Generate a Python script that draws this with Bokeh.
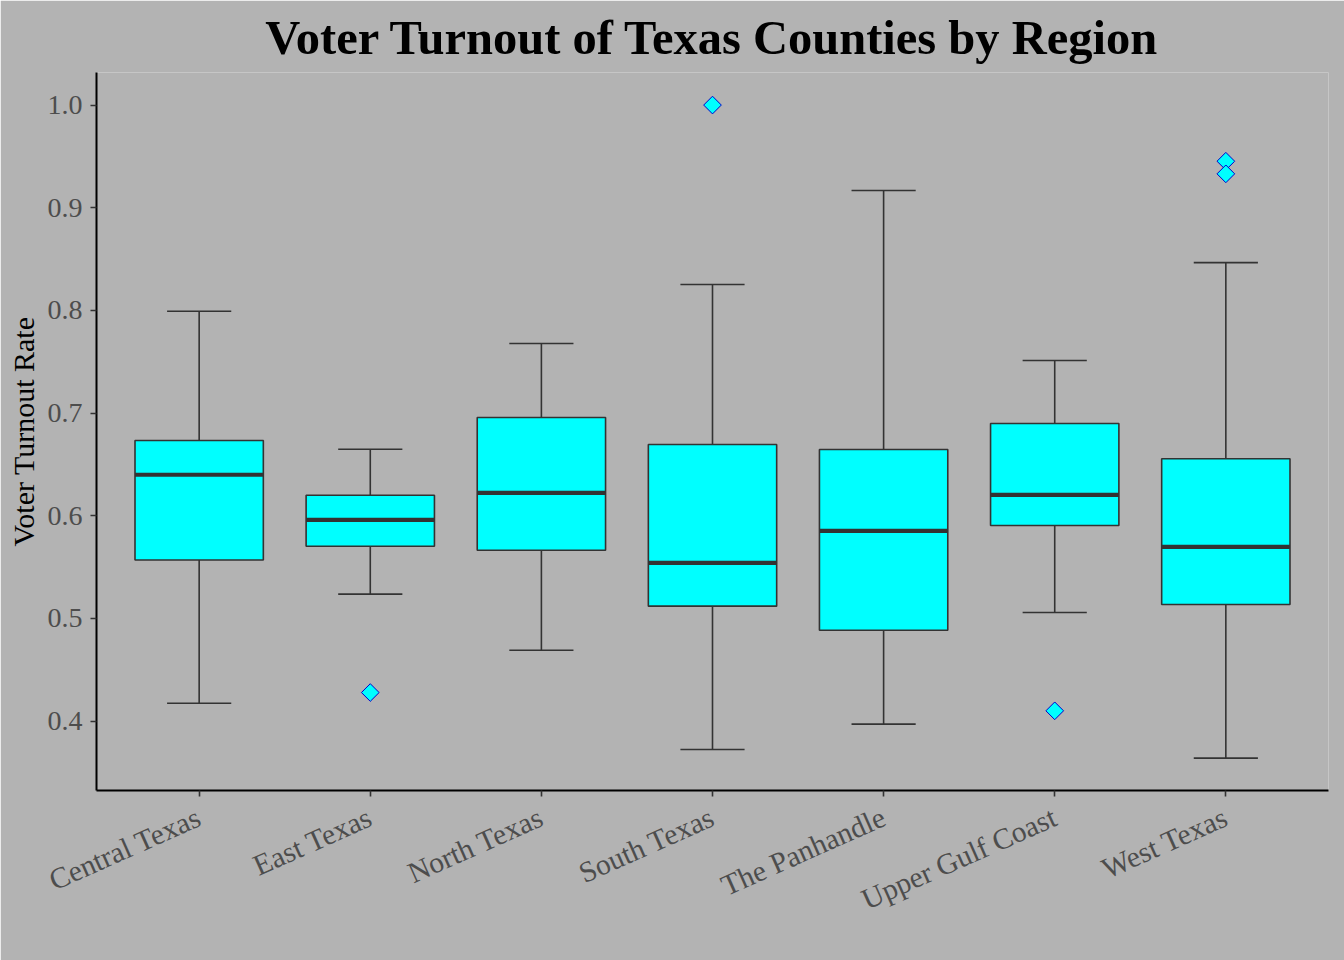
import numpy as np
from bokeh.plotting import figure
from bokeh.models import Range1d, FixedTicker, NumeralTickFormatter, ColumnDataSource
from bokeh.embed import file_html
from bokeh.resources import INLINE

# ---- data ----
regions = ["Central Texas", "East Texas", "North Texas", "South Texas",
           "The Panhandle", "Upper Gulf Coast", "West Texas"]
lower_whisker = [0.4175, 0.5237, 0.4691, 0.3724, 0.3971, 0.5058, 0.3640]
q1 = [0.5570, 0.5704, 0.5665, 0.5120, 0.4886, 0.5906, 0.5136]
median = [0.6400, 0.5961, 0.6224, 0.5542, 0.5854, 0.6204, 0.5698]
q3 = [0.6733, 0.6200, 0.6957, 0.6694, 0.6646, 0.6899, 0.6555]
upper_whisker = [0.7992, 0.6648, 0.7678, 0.8252, 0.9168, 0.7512, 0.8466]
outlier_region = ["East Texas", "South Texas", "Upper Gulf Coast", "West Texas", "West Texas"]
outlier_value = [0.4279, 1.0000, 0.4101, 0.9453, 0.9330]
y_ticks = [0.4, 0.5, 0.6, 0.7, 0.8, 0.9, 1.0]

# ---- derived positions ----
pos = {r: i + 1 for i, r in enumerate(regions)}
x = np.array([pos[r] for r in regions], dtype=float)
box_w = 0.75
cap_w = 0.375

src = ColumnDataSource(dict(
    x=x, lo=lower_whisker, q1=q1, med=median, q3=q3, hi=upper_whisker,
    xl=x - box_w / 2, xr=x + box_w / 2,
    cl=x - cap_w / 2, cr=x + cap_w / 2,
))
out_src = ColumnDataSource(dict(
    x=[pos[r] for r in outlier_region], y=outlier_value,
))

BG = "#B3B3B3"
EDGE = "#333333"
FONT = "Liberation Serif"

p = figure(width=1344, height=960,
           x_range=Range1d(0.4, 7.6), y_range=Range1d(0.3325, 1.0317),
           output_backend="svg", toolbar_location=None,
           min_border_left=96, min_border_right=16,
           min_border_top=72, min_border_bottom=170,
           background_fill_color=BG, border_fill_color=BG,
           outline_line_color=None)

# whiskers
p.segment(x0="x", y0="q3", x1="x", y1="hi", source=src, line_color=EDGE, line_width=1.6)
p.segment(x0="x", y0="q1", x1="x", y1="lo", source=src, line_color=EDGE, line_width=1.6)
# caps
p.segment(x0="cl", y0="hi", x1="cr", y1="hi", source=src, line_color=EDGE, line_width=1.6)
p.segment(x0="cl", y0="lo", x1="cr", y1="lo", source=src, line_color=EDGE, line_width=1.6)
# boxes
p.vbar(x="x", width=box_w, bottom="q1", top="q3", source=src,
       fill_color="#00FFFF", line_color=EDGE, line_width=1.6)
# medians
p.segment(x0="xl", y0="med", x1="xr", y1="med", source=src, line_color=EDGE, line_width=4.2)
# outliers
p.scatter(x="x", y="y", source=out_src, marker="square", angle=np.pi / 4, size=12.5,
          fill_color="#00FFFF", line_color="#0000CC", line_width=1)

# title
p.title.text = "Voter Turnout of Texas Counties by Region"
p.title.text_font = FONT
p.title.text_font_size = "48.5px"
p.title.text_font_style = "bold"
p.title.text_color = "#000000"
p.title.align = "center"
p.title.standoff = 17

# grids
p.xgrid.visible = False
p.ygrid.visible = False

# axes
for ax in (p.xaxis[0], p.yaxis[0]):
    ax.axis_line_color = "#000000"
    ax.axis_line_width = 2
    ax.major_tick_line_color = EDGE
    ax.major_tick_line_width = 1.6
    ax.major_tick_in = 0
    ax.major_tick_out = 6
    ax.minor_tick_line_color = None
    ax.major_label_text_font = FONT
    ax.major_label_text_font_size = "28px"
    ax.major_label_text_color = "#4D4D4D"
    ax.major_label_standoff = 8

p.xaxis.ticker = FixedTicker(ticks=list(x))
p.xaxis.major_label_overrides = {int(pos[r]): r for r in regions}
p.xaxis.major_label_orientation = np.deg2rad(24)
p.xaxis.major_label_text_font_size = "29.5px"
p.xaxis.major_label_standoff = 19

p.yaxis.ticker = FixedTicker(ticks=y_ticks)
p.yaxis.formatter = NumeralTickFormatter(format="0.0")
p.yaxis.axis_label = "Voter Turnout Rate"
p.yaxis.axis_label_text_font = FONT
p.yaxis.axis_label_text_font_size = "30px"
p.yaxis.axis_label_text_font_style = "normal"
p.yaxis.axis_label_text_color = "#000000"
p.yaxis.axis_label_standoff = 5

open("out.html", "w").write(file_html(p, INLINE))
